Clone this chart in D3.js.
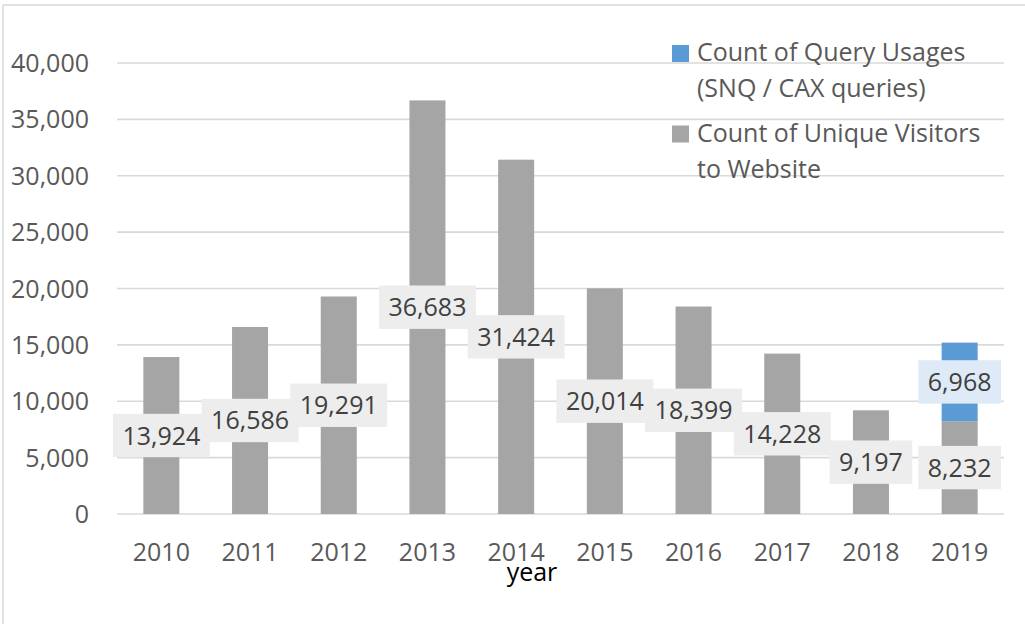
<!DOCTYPE html>
<html>
<head>
<meta charset="utf-8">
<script src="https://cdn.jsdelivr.net/npm/d3@7"></script>
<style>
    body { margin: 0; background: #fff; }
    svg { display: block; font-family: "Open Sans", sans-serif; }
</style>
</head>
<body>
<svg id="chart" width="1025" height="624"></svg>
<script>
/*global d3*/
var years = ["2010", "2011", "2012", "2013", "2014", "2015", "2016", "2017", "2018", "2019"],
    visitors = [13924, 16586, 19291, 36683, 31424, 20014, 18399, 14228, 9197, 8232],
    queries = [0, 0, 0, 0, 0, 0, 0, 0, 0, 6968],
    yTicks = [0, 5000, 10000, 15000, 20000, 25000, 30000, 35000, 40000],
    seriesKeys = ["visitors", "queries"],
    seriesColors = { visitors: "#a5a5a5", queries: "#5b9bd5" },
    labelFills = { visitors: "#ededed", queries: "#deebf7" },
    legendItems = [
        { key: "queries", lines: ["Count of Query Usages", "(SNQ / CAX queries)"] },
        { key: "visitors", lines: ["Count of Unique Visitors", "to Website"] }
    ];

(function () {
    "use strict";
    var svg = d3.select("#chart"),
        fmt = d3.format(","),
        rows,
        stacked,
        xScale,
        yScale,
        plot,
        labels,
        legend;

    rows = years.map(function (y, i) {
        return { year: y, visitors: visitors[i], queries: queries[i] };
    });
    stacked = d3.stack().keys(seriesKeys)(rows);

    xScale = d3.scaleBand()
        .domain(years)
        .range([117, 1004])
        .paddingInner(0.594)
        .paddingOuter(0.297);

    yScale = d3.scaleLinear()
        .domain([0, 40000])
        .range([514, 63]);

    //chart frame (only top and left edges show)
    svg.append("line")
        .attr("x1", 3).attr("x2", 1025).attr("y1", 5).attr("y2", 5)
        .attr("stroke", "#d9d9d9").attr("stroke-width", 1.5);
    svg.append("line")
        .attr("x1", 3).attr("x2", 3).attr("y1", 5).attr("y2", 624)
        .attr("stroke", "#d9d9d9").attr("stroke-width", 1.5);

    //gridlines
    svg.append("g").selectAll("line")
        .data(yTicks)
        .enter().append("line")
        .attr("x1", 117).attr("x2", 1004)
        .attr("y1", function (d) { return yScale(d); })
        .attr("y2", function (d) { return yScale(d); })
        .attr("stroke", "#d9d9d9")
        .attr("stroke-width", 1.6);

    //y tick labels
    svg.append("g").selectAll("text")
        .data(yTicks)
        .enter().append("text")
        .attr("x", 89)
        .attr("y", function (d) { return yScale(d); })
        .attr("dy", "0.36em")
        .attr("text-anchor", "end")
        .attr("font-size", 25)
        .attr("fill", "#595959")
        .text(function (d) { return fmt(d); });

    //bars
    plot = svg.append("g");
    plot.selectAll("g.series")
        .data(stacked)
        .enter().append("g")
        .attr("class", "series")
        .attr("fill", function (s) { return seriesColors[s.key]; })
        .selectAll("rect")
        .data(function (s) { return s; })
        .enter().append("rect")
        .attr("x", function (d) { return xScale(d.data.year); })
        .attr("width", xScale.bandwidth())
        .attr("y", function (d) { return yScale(d[1]); })
        .attr("height", function (d) { return yScale(d[0]) - yScale(d[1]); });

    //x tick labels
    svg.append("g").selectAll("text")
        .data(years)
        .enter().append("text")
        .attr("x", function (d) { return xScale(d) + xScale.bandwidth() / 2; })
        .attr("y", 561)
        .attr("text-anchor", "middle")
        .attr("font-size", 25)
        .attr("fill", "#595959")
        .text(function (d) { return d; });

    //axis title
    svg.append("text")
        .attr("x", 532)
        .attr("y", 581)
        .attr("text-anchor", "middle")
        .attr("font-size", 25)
        .attr("fill", "#000")
        .text("year");

    //data labels, centred on each segment, drawn year by year so later boxes overlap
    labels = [];
    years.forEach(function (y, i) {
        stacked.forEach(function (s) {
            var d = s[i];
            if (d[1] - d[0] > 0) {
                labels.push({ key: s.key, year: y, mid: (d[0] + d[1]) / 2, value: d[1] - d[0] });
            }
        });
    });

    labels.forEach(function (lab) {
        var g = svg.append("g")
                .attr("transform", "translate(" + (xScale(lab.year) + xScale.bandwidth() / 2) + " " + yScale(lab.mid) + ")"),
            rect = g.append("rect").attr("fill", labelFills[lab.key]),
            txt = g.append("text")
                .attr("text-anchor", "middle")
                .attr("dy", "0.36em")
                .attr("font-size", 25)
                .attr("fill", "#404040")
                .text(fmt(lab.value)),
            w = txt.node().getComputedTextLength() + 19;
        rect.attr("x", -w / 2).attr("y", -21.7).attr("width", w).attr("height", 43.4);
    });

    //legend
    legend = svg.append("g").selectAll("g")
        .data(legendItems)
        .enter().append("g")
        .attr("transform", function (d, i) { return "translate(672 " + (45 + i * 80.5) + ")"; });
    legend.append("rect")
        .attr("width", 17).attr("height", 17)
        .attr("fill", function (d) { return seriesColors[d.key]; });
    legend.each(function (d) {
        var t = d3.select(this).append("text")
            .attr("font-size", 25)
            .attr("fill", "#595959");
        d.lines.forEach(function (line, j) {
            t.append("tspan")
                .attr("x", 25)
                .attr("y", 16 + j * 36)
                .text(line);
        });
    });
}());
</script>
</body>
</html>
